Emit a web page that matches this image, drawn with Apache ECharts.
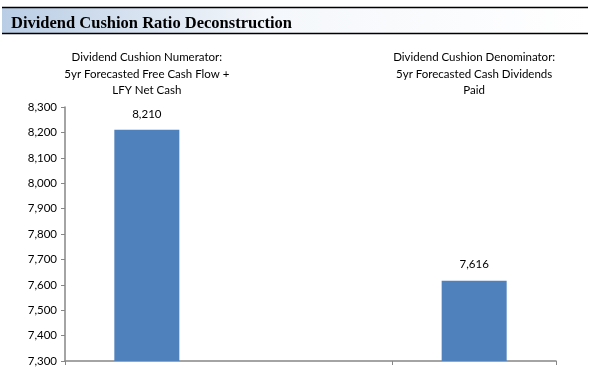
<!DOCTYPE html>
<html>
<head>
<meta charset="utf-8">
<script src="https://cdn.jsdelivr.net/npm/echarts@6/dist/echarts.min.js"></script>
<style>
html,body{margin:0;padding:0;background:#fff;}
#chart{width:596px;height:374px;}
</style>
</head>
<body>
<div id="chart"></div>
<script>
var titleText = "Dividend Cushion Ratio Deconstruction";
var categories = [
  "Dividend Cushion Numerator:\n5yr Forecasted Free Cash Flow +\nLFY Net Cash",
  "",
  "Dividend Cushion Denominator:\n5yr Forecasted Cash Dividends\nPaid"
];
var values = [8210, null, 7616];
var yMin = 7300, yMax = 8300, yStep = 100;

var chart = echarts.init(document.getElementById('chart'), null, {renderer: 'canvas'});
var font = 'Lato, "Open Sans", sans-serif';
chart.setOption({
  animation: false,
  backgroundColor: '#ffffff',
  graphic: [
    {type: 'rect', shape: {x: 2, y: 8, width: 586, height: 25},
     style: {fill: new echarts.graphic.LinearGradient(0, 0, 1, 0, [
       {offset: 0, color: '#b9cde5'}, {offset: 0.45, color: '#f4f7fb'}, {offset: 1, color: '#ffffff'}])}, z: -1},
    {type: 'line', shape: {x1: 2, y1: 7.5, x2: 588, y2: 7.5}, style: {stroke: '#000', lineWidth: 1.5}},
    {type: 'line', shape: {x1: 2, y1: 33.5, x2: 588, y2: 33.5}, style: {stroke: '#000', lineWidth: 1.5}}
  ],
  title: {
    text: titleText, left: 6, top: 10,
    textStyle: {fontFamily: '"Liberation Serif", "DejaVu Serif", serif', fontWeight: 'bold', fontSize: 16.5, color: '#000'}
  },
  grid: {left: 65, right: 40, top: 107, bottom: 13, containLabel: false},
  xAxis: [{
    type: 'category', data: categories, position: 'bottom',
    axisLine: {lineStyle: {color: '#868686', width: 1.5}},
    axisTick: {show: true, length: 4, lineStyle: {color: '#868686'}},
    axisLabel: {show: false}
  }, {
    type: 'category', data: categories, position: 'top',
    axisLine: {show: false}, axisTick: {show: false},
    axisLabel: {show: true, margin: 8, lineHeight: 16.5, fontFamily: font, fontSize: 11.5, color: '#000', align: 'center'}
  }],
  yAxis: {
    type: 'value', min: yMin, max: yMax, interval: yStep,
    axisLine: {show: true, lineStyle: {color: '#868686', width: 1.5}},
    axisTick: {show: true, length: 4, lineStyle: {color: '#868686'}},
    splitLine: {show: false},
    axisLabel: {margin: 8, fontFamily: font, fontSize: 11.5, color: '#000',
      formatter: function (v) { return v.toLocaleString('en-US'); }}
  },
  series: [{
    type: 'bar', data: values, xAxisIndex: 0, barWidth: 65,
    itemStyle: {color: '#4f81bd'},
    label: {show: true, position: 'top', distance: 10, fontFamily: font, fontSize: 11.5, color: '#000',
      formatter: function (p) { return p.value == null ? '' : p.value.toLocaleString('en-US'); }}
  }]
});
</script>
</body>
</html>
